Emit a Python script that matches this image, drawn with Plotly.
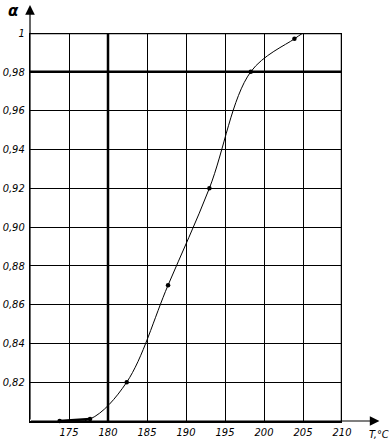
import plotly.graph_objects as go

# data
T = [173.8, 177.7, 182.4, 187.7, 193.0, 198.3, 203.9]
alpha = [0.800, 0.801, 0.820, 0.870, 0.920, 0.980, 0.997]
curve_T = T + [205.0]
curve_alpha = alpha + [1.0]

x_ticks = [175, 180, 185, 190, 195, 200, 205, 210]
y_ticks = [0.82, 0.84, 0.86, 0.88, 0.90, 0.92, 0.94, 0.96, 0.98, 1.0]
y_labels = ["0,82", "0,84", "0,86", "0,88", "0,90", "0,92", "0,94", "0,96", "0,98", "1"]

FONT = dict(family="DejaVu Sans Condensed, Liberation Sans Narrow, sans-serif",
            size=11, color="black", style="italic")

def it(s):
    return "<i>" + s + "</i>"

fig = go.Figure()
fig.add_trace(go.Scatter(x=curve_T, y=curve_alpha, mode="lines",
                         line=dict(color="black", width=1, shape="spline", smoothing=1.0),
                         hoverinfo="skip", cliponaxis=False))
fig.add_trace(go.Scatter(x=T[:2], y=alpha[:2], mode="lines",
                         line=dict(color="black", width=2.5), cliponaxis=False))
fig.add_trace(go.Scatter(x=T, y=alpha, mode="markers",
                         marker=dict(color="black", size=4.5), cliponaxis=False))

shapes = []
thick = dict(color="black", width=2.5)
shapes.append(dict(type="line", xref="x", yref="y", x0=180, x1=180, y0=0.80, y1=1.0, line=thick))
shapes.append(dict(type="line", xref="x", yref="y", x0=210, x1=210, y0=0.80, y1=1.0, line=thick))
shapes.append(dict(type="line", xref="x", yref="y", x0=170, x1=210, y0=0.98, y1=0.98, line=thick))
shapes.append(dict(type="line", xref="x", yref="y", x0=170, x1=210, y0=1.0, y1=1.0, line=thick))

annotations = [
    # y axis arrow
    dict(xref="paper", yref="paper", x=0, y=1.072, ax=0, ay=416, axref="pixel", ayref="pixel",
         text="", showarrow=True, arrowhead=2, arrowsize=1.6, arrowwidth=1.2, arrowcolor="black",
         standoff=0, startstandoff=0),
    # x axis arrow
    dict(xref="paper", yref="paper", x=1.12, y=0, ax=-350, ay=0, axref="pixel", ayref="pixel",
         text="", showarrow=True, arrowhead=2, arrowsize=1.6, arrowwidth=1.2, arrowcolor="black",
         standoff=0, startstandoff=0),
    dict(xref="paper", yref="paper", x=-0.054, y=1.057, text="<b><i>α</i></b>", showarrow=False,
         xanchor="center", yanchor="middle",
         font=dict(family="DejaVu Sans, sans-serif", size=15, color="black")),
    dict(xref="paper", yref="paper", x=1.118, y=-0.036, text=it("T,°C"), showarrow=False,
         xanchor="center", yanchor="middle", font=FONT),
]

fig.update_layout(
    template="none",
    width=389, height=440,
    margin=dict(l=30, r=47, t=33, b=19, autoexpand=False),
    paper_bgcolor="white", plot_bgcolor="white",
    showlegend=False,
    font=FONT,
    shapes=shapes,
    annotations=annotations,
    xaxis=dict(range=[170, 210], tickvals=x_ticks, ticktext=[it(str(v)) for v in x_ticks],
               showgrid=True, gridcolor="black", gridwidth=1, automargin=False,
               showline=True, linecolor="black", linewidth=1.5,
               ticks="", zeroline=False, fixedrange=True, ticklabelstandoff=0),
    yaxis=dict(range=[0.80, 1.0], tickvals=y_ticks, ticktext=[it(s) for s in y_labels],
               showgrid=True, gridcolor="black", gridwidth=1, automargin=False,
               showline=True, linecolor="black", linewidth=1.2,
               ticks="", zeroline=False, fixedrange=True, ticklabelstandoff=2),
)

fig.write_html("out.html", config={"displayModeBar": False},
               post_script="document.body.style.margin='0';document.body.style.padding='0';")
